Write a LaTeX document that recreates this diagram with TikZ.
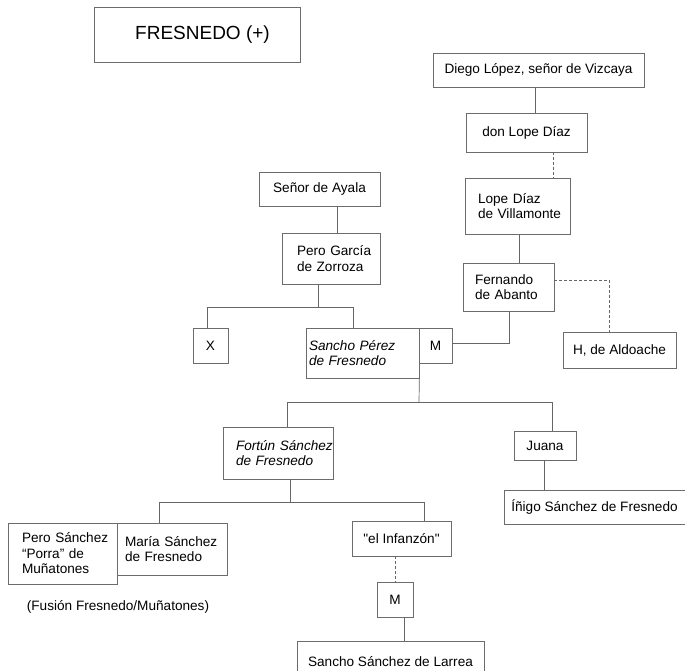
\documentclass[tikz,border=0pt]{standalone}
\usepackage{fontspec}
\setmainfont{Liberation Sans}[Ligatures=TeXOff]
\begin{document}
\begin{tikzpicture}[x=1pt,y=-1pt,
  lnk/.style={draw=gray!80!black,line width=0.7pt},
  dlnk/.style={lnk,dashed,dash pattern=on 3pt off 2pt},
  txt/.style={font=\fontsize{13.6}{15.5}\selectfont},
  box/.style={txt,draw=gray!85!black,line width=0.7pt,fill=white,inner sep=0pt,align=center},
  sbox/.style args={#1/#2}{box,minimum width=#1,minimum height=#2},
  lbox/.style args={#1/#2/#3}{box,align=left,inner xsep=#3,text width=#1,minimum height=#2}]
\useasboundingbox (0,0) rectangle (685,671);

% title
\node[sbox=206pt/55pt,font=\fontsize{19}{22}\selectfont] (fres) at (197,35) {\hspace*{11pt}FRESNEDO (+)};

% Vizcaya line
\node[sbox=211pt/34pt] (diego) at (538.5,70) {Diego López, señor de Vizcaya};
\node[sbox=121pt/39pt] (donlope) at (526.5,132.5) {don Lope Díaz};
\node[lbox=79pt/56pt/13pt] (villa) at (517.5,206) {\mbox{Lope Díaz}\\\mbox{de Villamonte}};
\node[lbox=67pt/48pt/12pt] (fern) at (508.5,287) {\mbox{Fernando}\\\mbox{de Abanto}};
\node[sbox=113pt/36pt] (aldo) at (619.5,350) {H, de Aldoache};

% Ayala line
\node[sbox=121pt/34pt] (ayala) at (319.5,189) {Señor de Ayala};
\node[lbox=68pt/51pt/15pt] (pero) at (331,258.5) {\mbox{Pero García}\\\mbox{de Zorroza}};
\node[sbox=35pt/35pt] (x) at (210.5,345.5) {X};
\node[lbox=107pt/50pt/3pt,font=\fontsize{13.6}{15.5}\selectfont\itshape] (sancho) at (362.5,353) {\mbox{Sancho Pérez}\\\mbox{de Fresnedo}};
\node[sbox=33pt/35pt] (m1) at (435.5,345.5) {M};

% next generations
\node[lbox=84pt/52pt/13pt,font=\fontsize{13.6}{15.5}\selectfont\itshape] (fortun) at (278,453) {\mbox{Fortún Sánchez}\\\mbox{de Fresnedo}};
\node[sbox=62pt/29pt] (juana) at (545,445.5) {Juana};
\node[sbox=181pt/34pt] (inigo) at (594.5,507) {Íñigo Sánchez de Fresnedo};
\node[lbox=81pt/61pt/14pt] (perosan) at (62.5,553.5) {\mbox{Pero Sánchez}\\\mbox{“Porra” de}\\\mbox{Muñatones}};
\node[lbox=94pt/52pt/8pt] (maria) at (172,549) {\mbox{María Sánchez}\\\mbox{de Fresnedo}};
\node[sbox=99pt/35pt] (infanzon) at (401.5,538.5) {"el Infanzón"};
\node[sbox=36pt/35pt] (m2) at (395,599.5) {M};
\node[sbox=187pt/42pt] (larrea) at (390.5,662) {Sancho Sánchez de Larrea};
\node[txt,inner sep=0pt] (fusion) at (118,607) {(Fusión Fresnedo/Muñatones)};

% connectors, Vizcaya line
\draw[lnk] (diego.south -| 535,0) -- (donlope.north -| 535,0);
\draw[dlnk] (donlope.south -| 553,0) -- (villa.north -| 553,0);
\draw[lnk] (villa.south -| 519,0) -- (fern.north -| 519,0);
\draw[dlnk] (fern.east |- 0,280) -- (609,280) -- (aldo.north -| 609,0);
\draw[lnk] (fern.south -| 509,0) -- (509,343) -- (m1.east |- 0,343);

% connectors, Ayala line
\draw[lnk] (ayala.south -| 337,0) -- (pero.north -| 337,0);
\draw[lnk] (pero.south -| 318,0) -- (318,307);
\draw[lnk] (x.north -| 207,0) -- (207,307) -- (353,307) -- (sancho.north -| 353,0);

% children of Sancho
\draw[lnk] (sancho.south east) -- (419,402);
\draw[lnk] (fortun.north -| 287,0) -- (287,402) -- (552,402) -- (juana.north -| 552,0);
\draw[lnk] (juana.south -| 544,0) -- (inigo.north -| 544,0);

% children of Fortún
\draw[lnk] (fortun.south -| 290,0) -- (290,502);
\draw[lnk] (maria.north -| 159,0) -- (159,502) -- (424,502) -- (infanzon.north -| 424,0);
\draw[dlnk] (infanzon.south -| 395,0) -- (m2.north -| 395,0);
\draw[lnk] (m2.south -| 404,0) -- (larrea.north -| 404,0);
\end{tikzpicture}
\end{document}
